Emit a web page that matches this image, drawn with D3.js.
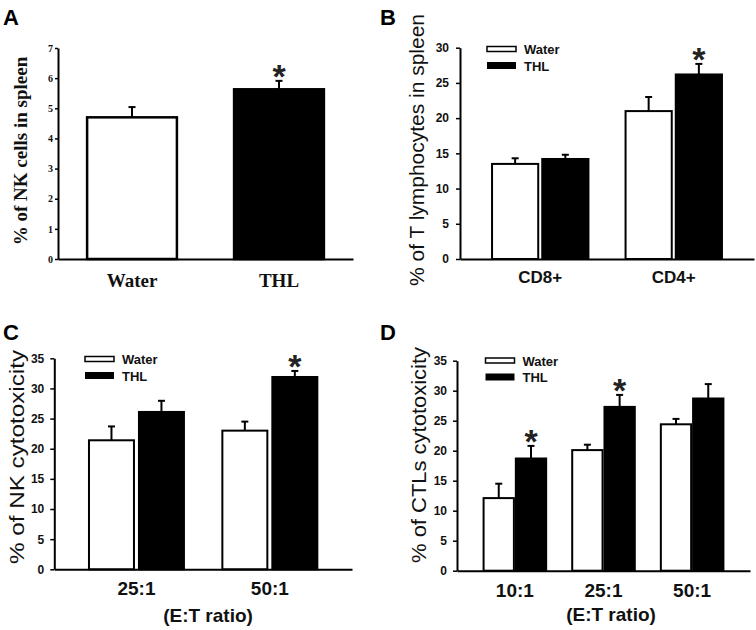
<!DOCTYPE html>
<html><head><meta charset="utf-8">
<script src="https://cdn.jsdelivr.net/npm/d3@7"></script>
<style>body{margin:0;background:#fff} svg{display:block}</style>
</head><body>
<svg id="fig" width="756" height="630"></svg>
<script>
// ---------- DATA ----------
const series = ["Water", "THL"];

// Panel A
const aCategories = ["Water", "THL"];
const aMeans = [4.7, 5.63];
const aErrors = [0.34, 0.28];
const aSig = [false, true];
const aTicks = [0, 1, 2, 3, 4, 5, 6, 7];

// Panel B
const bGroups = ["CD8+", "CD4+"];
const bWater = [13.5, 21.0];
const bWaterErr = [0.8, 2.0];
const bTHL = [14.2, 26.2];
const bTHLErr = [0.6, 1.5];
const bSig = [false, true];
const bTicks = [0, 5, 10, 15, 20, 25, 30];

// Panel C
const cGroups = ["25:1", "50:1"];
const cWater = [21.4, 23.0];
const cWaterErr = [2.3, 1.5];
const cTHL = [26.1, 31.9];
const cTHLErr = [1.85, 1.0];
const cSig = [false, true];
const cTicks = [0, 5, 10, 15, 20, 25, 30, 35];

// Panel D
const dGroups = ["10:1", "25:1", "50:1"];
const dWater = [12.1, 20.1, 24.4];
const dWaterErr = [2.4, 0.9, 0.9];
const dTHL = [18.7, 27.3, 28.7];
const dTHLErr = [2.1, 2.0, 2.4];
const dSig = [true, true, false];
const dTicks = [0, 5, 10, 15, 20, 25, 30, 35];

// ---------- DRAWING ----------
const svg = d3.select("#fig");
const SANS = "'Liberation Sans', Arial, sans-serif";
const SERIF = "'Liberation Serif', 'Times New Roman', serif";
const fillOf = s => s === "THL" ? "#000" : "#fff";

function styleYAxis(g, font, size) {
  g.select(".domain").attr("stroke", "#000").attr("stroke-width", 2);
  g.selectAll(".tick line").attr("stroke", "#000").attr("stroke-width", 1.5);
  g.selectAll(".tick text").attr("font-family", font).attr("font-size", size)
    .attr("font-weight", "bold").attr("fill", "#111");
}

function drawErr(g, cx, yTop, yBar) {
  g.append("line").attr("x1", cx).attr("x2", cx).attr("y1", yBar).attr("y2", yTop)
    .attr("stroke", "#000").attr("stroke-width", 2);
  g.append("line").attr("x1", cx - 3.5).attr("x2", cx + 3.5).attr("y1", yTop).attr("y2", yTop)
    .attr("stroke", "#000").attr("stroke-width", 2);
}

function drawStar(g, cx, yTopErr) {
  g.append("text").attr("x", cx).attr("y", yTopErr - 13 + 20)
    .attr("text-anchor", "middle").attr("font-family", SANS).attr("font-weight", "bold")
    .attr("font-size", 34).attr("fill", "#222").text("*");
}

function panelLetter(t, x, y) {
  svg.append("text").attr("x", x).attr("y", y).attr("font-family", SANS)
    .attr("font-weight", "bold").attr("font-size", 22).attr("fill", "#000").text(t);
}

// ----- Panel A -----
(function () {
  const g = svg.append("g");
  const x = d3.scaleBand().domain(aCategories).range([58, 353]).paddingInner(0.389).paddingOuter(0.198);
  const y = d3.scaleLinear().domain([0, 7]).range([259, 48]);
  const rows = aCategories.map((c, i) => ({ c, m: aMeans[i], e: aErrors[i], s: aSig[i] }));
  rows.forEach(r => {
    const cx = x(r.c) + x.bandwidth() / 2;
    drawErr(g, cx, y(r.m + r.e), y(r.m));
    g.append("rect").attr("x", x(r.c)).attr("y", y(r.m)).attr("width", x.bandwidth())
      .attr("height", y(0) - y(r.m)).attr("fill", fillOf(r.c)).attr("stroke", "#000").attr("stroke-width", 2.5);
    if (r.s) drawStar(g, cx, y(r.m + r.e));
  });
  const ya = g.append("g").attr("transform", "translate(58,0)")
    .call(d3.axisLeft(y).tickValues(aTicks).tickFormat(d3.format("d")).tickSize(3).tickSizeOuter(0).tickPadding(2));
  styleYAxis(ya, SERIF, 10);
  const xa = g.append("g").attr("transform", "translate(0,259)")
    .call(d3.axisBottom(x).tickSize(0).tickSizeOuter(0));
  xa.select(".domain").attr("stroke", "#000").attr("stroke-width", 2);
  xa.selectAll(".tick text").attr("y", 28).attr("dy", 0).attr("font-family", SERIF)
    .attr("font-size", 19).attr("font-weight", "bold").attr("fill", "#111");
  g.append("text").attr("transform", "translate(20,151) rotate(-90)").attr("text-anchor", "middle")
    .attr("dominant-baseline", "central").attr("font-family", SERIF).attr("font-weight", "bold")
    .attr("font-size", 19).attr("fill", "#111").text("% of NK cells in spleen");
  panelLetter("A", 3, 25);
})();

// ----- grouped panels -----
function grouped(cfg) {
  const g = svg.append("g");
  const x0 = d3.scaleBand().domain(cfg.groups).range([cfg.xL, cfg.xR])
    .paddingInner(cfg.pIn).paddingOuter(cfg.pOut);
  const x1 = d3.scaleBand().domain(series).range([0, x0.bandwidth()]).paddingInner(cfg.pBar);
  const y = d3.scaleLinear().domain(cfg.domain).range([cfg.y0, cfg.yT]);
  cfg.groups.forEach((grp, i) => {
    const vals = { Water: [cfg.water[i], cfg.waterErr[i]], THL: [cfg.thl[i], cfg.thlErr[i]] };
    series.forEach(s => {
      const [m, e] = vals[s];
      const bx = x0(grp) + x1(s);
      const cx = bx + x1.bandwidth() / 2;
      drawErr(g, cx, y(m + e), y(m));
      g.append("rect").attr("x", bx).attr("y", y(m)).attr("width", x1.bandwidth())
        .attr("height", y(0) - y(m)).attr("fill", fillOf(s)).attr("stroke", "#000").attr("stroke-width", 2);
      if (s === "THL" && cfg.sig[i]) drawStar(g, cx, y(m + e));
    });
  });
  const ya = g.append("g").attr("transform", `translate(${cfg.xL},0)`)
    .call(d3.axisLeft(y).tickValues(cfg.ticks).tickSize(4).tickSizeOuter(0).tickPadding(cfg.tPad));
  styleYAxis(ya, SANS, 12);
  const xa = g.append("g").attr("transform", `translate(0,${cfg.y0})`)
    .call(d3.axisBottom(x0).tickSize(0).tickSizeOuter(0));
  xa.select(".domain").attr("stroke", "#000").attr("stroke-width", 2);
  xa.selectAll(".tick text").attr("y", cfg.xLabY).attr("dy", 0).attr("font-family", SANS)
    .attr("font-size", cfg.xLabSize).attr("font-weight", "bold").attr("fill", "#111");
  g.append("text").attr("transform", `translate(${cfg.labX},${cfg.labY}) rotate(-90)`)
    .attr("text-anchor", "middle").attr("dominant-baseline", "central")
    .attr("font-family", SANS).attr("font-size", cfg.labSize).attr("fill", "#111")
    .attr("textLength", cfg.labLen).attr("lengthAdjust", "spacingAndGlyphs").text(cfg.label);
  if (cfg.ratio) {
    g.append("text").attr("x", cfg.ratio[0]).attr("y", cfg.ratio[1]).attr("text-anchor", "middle")
      .attr("font-family", SANS).attr("font-weight", "bold").attr("font-size", 19).attr("fill", "#111")
      .text("(E:T ratio)");
  }
  // legend
  const [lx, ly] = cfg.legend;
  g.append("rect").attr("x", lx).attr("y", ly).attr("width", 29).attr("height", 5)
    .attr("fill", "#fff").attr("stroke", "#000").attr("stroke-width", 1.5);
  g.append("rect").attr("x", lx).attr("y", ly + 15.5).attr("width", 29).attr("height", 7)
    .attr("fill", "#000");
  series.forEach((s, i) => {
    g.append("text").attr("x", lx + 37).attr("y", ly + 3 + i * 16.5).attr("dominant-baseline", "central")
      .attr("font-family", SANS).attr("font-weight", "bold").attr("font-size", 13).attr("fill", "#111").text(s);
  });
}

grouped({ groups: bGroups, water: bWater, waterErr: bWaterErr, thl: bTHL, thlErr: bTHLErr, sig: bSig,
  ticks: bTicks, domain: [0, 30], xL: 460, xR: 754, y0: 259, yT: 47.7, pIn: 0.278, pOut: 0.24, pBar: 0.08,
  tPad: 7, xLabY: 24, xLabSize: 17, labX: 417, labY: 150, labSize: 20, labLen: 272,
  label: "% of T lymphocytes in spleen", legend: [487, 46.5] });
panelLetter("B", 380, 25);

grouped({ groups: cGroups, water: cWater, waterErr: cWaterErr, thl: cTHL, thlErr: cTHLErr, sig: cSig,
  ticks: cTicks, domain: [0, 35], xL: 54.3, xR: 352, y0: 569.3, yT: 358.3, pIn: 0.288, pOut: 0.26, pBar: 0.1,
  tPad: 6, xLabY: 26, xLabSize: 19, labX: 17, labY: 457, labSize: 20, labLen: 214,
  label: "% of NK cytotoxicity", legend: [85, 356.5], ratio: [208, 622] });
panelLetter("C", 3, 340);

grouped({ groups: dGroups, water: dWater, waterErr: dWaterErr, thl: dTHL, thlErr: dTHLErr, sig: dSig,
  ticks: dTicks, domain: [0, 35], xL: 457, xR: 750, y0: 570.7, yT: 360.7, pIn: 0.294, pOut: 0.3, pBar: 0.06,
  tPad: 6, xLabY: 26, xLabSize: 19, labX: 419, labY: 455, labSize: 20, labLen: 216,
  label: "% of CTLs cytotoxicity", legend: [485.5, 358], ratio: [611, 621] });
panelLetter("D", 380, 340);
</script>
</body></html>
